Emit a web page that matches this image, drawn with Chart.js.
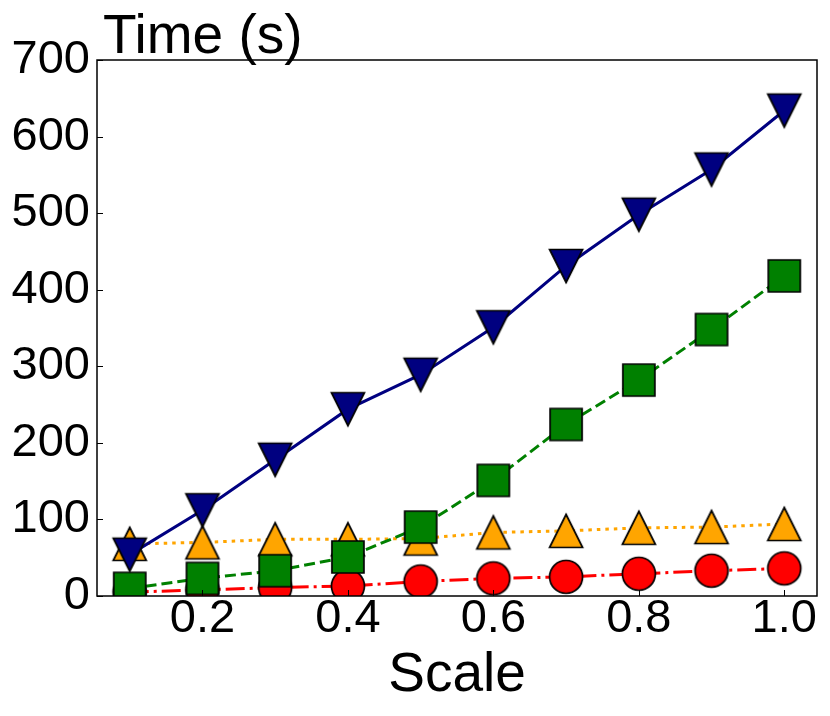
<!DOCTYPE html>
<html>
<head>
<meta charset="utf-8">
<script src="https://cdn.jsdelivr.net/npm/chart.js@4.4.1/dist/chart.umd.min.js"></script>
<style>
  html, body { margin: 0; padding: 0; background: #fff; }
  #wrap { width: 830px; height: 716px; }
</style>
</head>
<body>
<div id="wrap"><canvas id="myChart" width="830" height="716"></canvas></div>
<script>
//--------------------------------Data--------------------------------
var scaleValues = [0.1, 0.2, 0.3, 0.4, 0.5, 0.6, 0.7, 0.8, 0.9, 1.0];
var navyTimes   = [54, 112, 178, 244, 289, 351, 431, 498, 557, 634];
var greenTimes  = [10, 23, 33, 51, 90, 151, 224, 282, 348, 418];
var orangeTimes = [68, 70, 74, 74, 75, 83, 85, 89, 90, 94];
var redTimes    = [5, 8, 11, 13, 19, 23, 25, 29, 33, 36];
var xTickValues = [0.2, 0.4, 0.6, 0.8, 1.0];
var yTickValues = [0, 100, 200, 300, 400, 500, 600, 700];

var FONT = '"Liberation Sans", Arial, sans-serif';

//--------------------------------Markers------------------------------
// small canvases used as point styles (matplotlib-like v, ^, s, o)
function makeMarker(shape, fill) {
    var size = 40;
    var c = document.createElement('canvas');
    c.width = size;
    c.height = size;
    var g = c.getContext('2d');
    var m = size / 2;
    var h = 16.5;
    g.beginPath();
    if (shape == 'circle') {
        g.arc(m, m, h, 0, Math.PI * 2);
    } else if (shape == 'square') {
        h = 16;
        g.rect(m - h, m - h, 2 * h, 2 * h);
    } else if (shape == 'up') {
        g.moveTo(m, m - h);
        g.lineTo(m + h, m + h);
        g.lineTo(m - h, m + h);
        g.closePath();
    } else {
        g.moveTo(m, m + h);
        g.lineTo(m + h, m - h);
        g.lineTo(m - h, m - h);
        g.closePath();
    }
    g.fillStyle = fill;
    g.fill();
    g.lineWidth = 1.7;
    g.strokeStyle = '#000';
    g.stroke();
    return c;
}

function toPoints(ys) {
    return scaleValues.map(function (x, i) { return { x: x, y: ys[i] }; });
}

function series(ys, color, dash, marker, order) {
    return {
        data: toPoints(ys),
        showLine: true,
        borderColor: color,
        backgroundColor: color,
        borderWidth: 3,
        borderDash: dash,
        borderCapStyle: 'butt',
        tension: 0,
        pointStyle: makeMarker(marker, color),
        pointRadius: 16,
        pointHoverRadius: 16,
        clip: 0,
        order: order
    };
}

//--------------------------------Frame plugin--------------------------
var framePlugin = {
    id: 'frame',
    afterDatasetsDraw: function (chart) {
        var ctx = chart.ctx;
        var a = chart.chartArea;
        var xs = chart.scales.x;
        var ys = chart.scales.y;
        ctx.save();
        ctx.strokeStyle = '#000';
        ctx.lineWidth = 1;
        // inward ticks
        ctx.beginPath();
        xTickValues.forEach(function (v) {
            var px = Math.round(xs.getPixelForValue(v)) + 0.5;
            ctx.moveTo(px, a.bottom);
            ctx.lineTo(px, a.bottom - 6);
        });
        yTickValues.forEach(function (v) {
            var py = Math.round(ys.getPixelForValue(v)) + 0.5;
            ctx.moveTo(a.left, py);
            ctx.lineTo(a.left + 6, py);
        });
        ctx.stroke();
        ctx.lineWidth = 1.5;
        ctx.strokeRect(a.left, a.top, a.right - a.left, a.bottom - a.top);
        // y axis label sits above the box
        ctx.fillStyle = '#000';
        ctx.font = '55px ' + FONT;
        ctx.textAlign = 'left';
        ctx.textBaseline = 'alphabetic';
        ctx.fillText('Time (s)', 103, 53);
        ctx.restore();
    }
};

//--------------------------------Chart--------------------------------
var ctx = document.getElementById('myChart');
var myChart = new Chart(ctx, {
    type: 'scatter',
    data: {
        datasets: [
            series(navyTimes, '#000080', [], 'down', 0),
            series(greenTimes, '#008000', [11, 5], 'square', 1),
            series(orangeTimes, '#FFA500', [3.5, 5], 'up', 2),
            series(redTimes, '#FF0000', [19, 5, 3, 5], 'circle', 3)
        ]
    },
    options: {
        responsive: false,
        animation: false,
        devicePixelRatio: 1,
        layout: { autoPadding: false, padding: { left: 0, right: 13, top: 60, bottom: 0 } },
        plugins: {
            legend: { display: false },
            tooltip: { enabled: false }
        },
        scales: {
            x: {
                type: 'linear',
                min: 0.055,
                max: 1.045,
                afterBuildTicks: function (s) {
                    s.ticks = xTickValues.map(function (v) { return { value: v }; });
                },
                afterFit: function (s) {
                    s.height = 120;
                    s.paddingLeft = 0;
                    s.paddingRight = 0;
                },
                grid: { display: false, drawTicks: false },
                border: { display: false },
                ticks: {
                    autoSkip: false,
                    maxRotation: 0,
                    padding: 0,
                    color: '#000',
                    font: { family: FONT, size: 47, lineHeight: 1 },
                    callback: function (v) { return Number(v).toFixed(1); }
                },
                title: {
                    display: true,
                    text: 'Scale',
                    color: '#000',
                    font: { family: FONT, size: 55, lineHeight: 1 },
                    padding: { top: 0, bottom: 13 }
                }
            },
            y: {
                type: 'linear',
                min: 0,
                max: 700,
                afterBuildTicks: function (s) {
                    s.ticks = yTickValues.map(function (v) { return { value: v }; });
                },
                afterFit: function (s) {
                    s.width = 97;
                    s.paddingTop = 0;
                    s.paddingBottom = 0;
                },
                grid: { display: false, drawTicks: false },
                border: { display: false },
                ticks: {
                    padding: 7,
                    color: '#000',
                    font: { family: FONT, size: 47, lineHeight: 1 }
                }
            }
        }
    },
    plugins: [framePlugin]
});
</script>
</body>
</html>
